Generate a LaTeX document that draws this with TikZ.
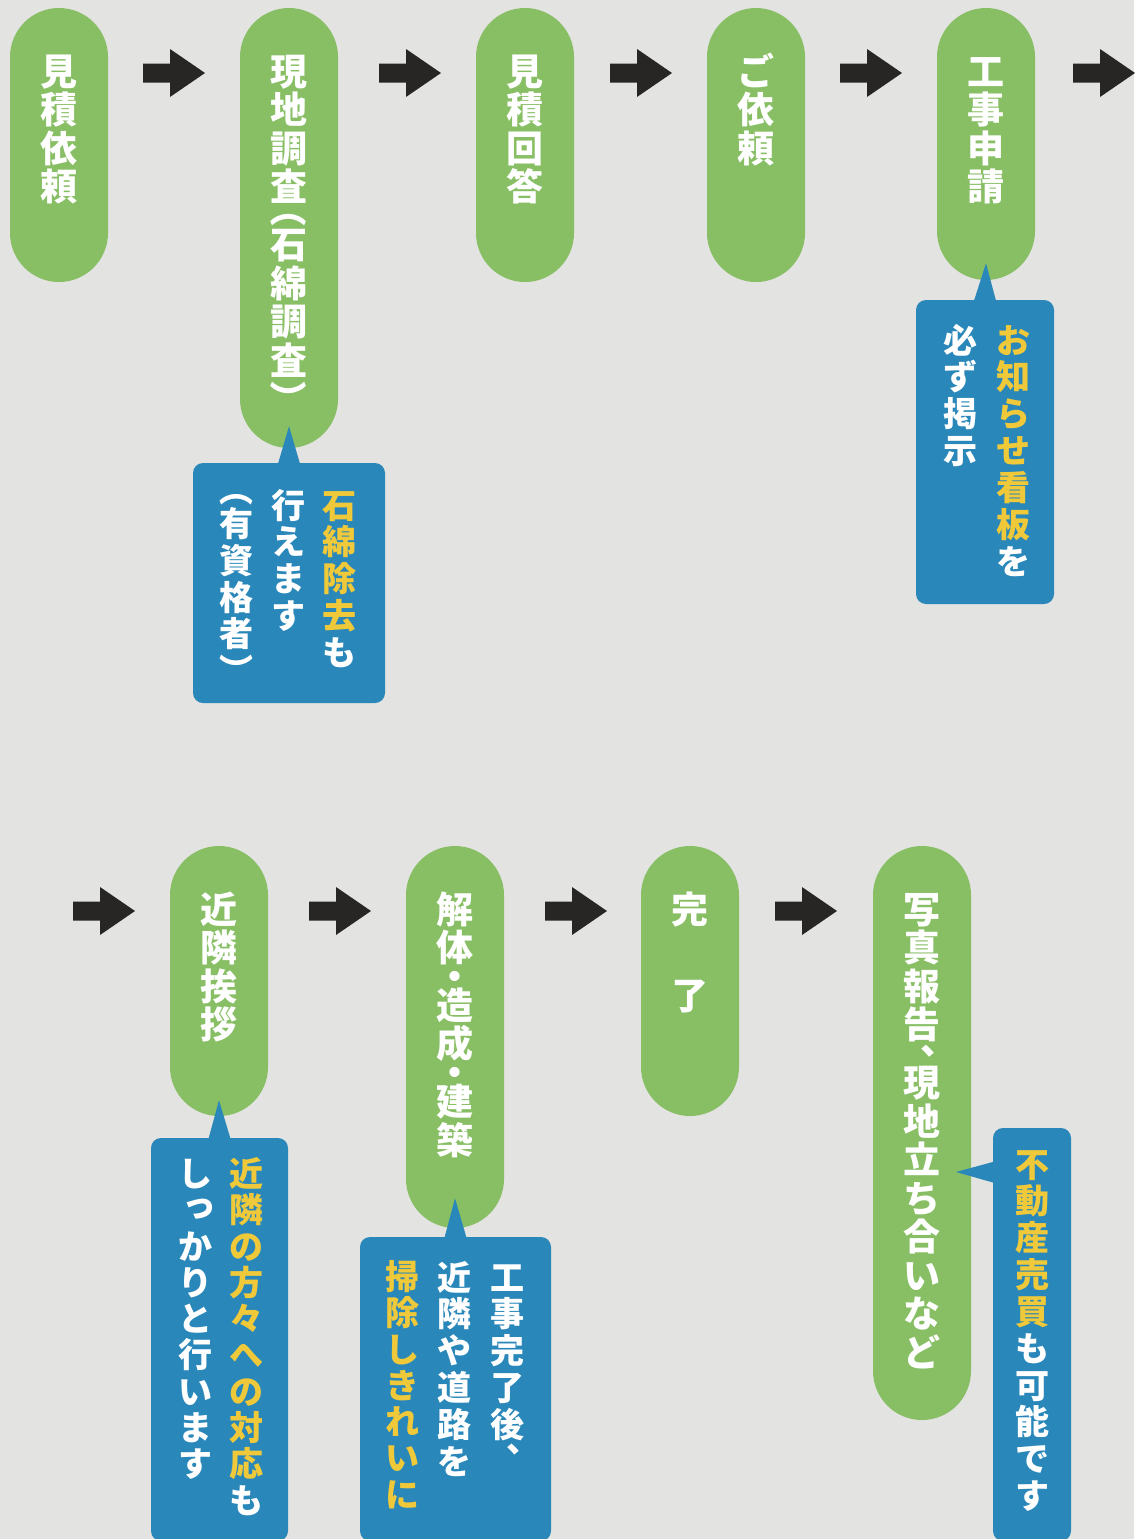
\documentclass[tikz,border=0pt]{standalone}
\usepackage{fontspec}
\usetikzlibrary{positioning,fit,calc}

\newfontfamily\jpfont{Noto Sans CJK JP}
\definecolor{bgc}{HTML}{E3E3E1}
\definecolor{grn}{HTML}{88BF65}
\definecolor{blu}{HTML}{2987B9}
\definecolor{yel}{HTML}{F0C93A}
\definecolor{arr}{HTML}{272625}

% vertical text: one cell per character
\newlength\vstep
\makeatletter
\def\vt@comma{、}\def\vt@dot{・}\def\vt@lp{（}\def\vt@rp{）}\def\vt@sp{　}\def\vt@tu{っ}
\newcommand\vcell[2]{\hbox to 1em{\vrule height\dimexpr#1\vstep-.12em\relax depth.12em width0pt\rlap{\smash{#2}}\hss}}
\newcommand\vchars[1]{\@tfor\vch:=#1\do{%
  \ifx\vch\vt@comma\vcell{.5}{\hspace*{.45em}\raisebox{.1em}{、}}%
  \else\ifx\vch\vt@dot\vcell{.5}{\raisebox{-.25em}{・}}%
  \else\ifx\vch\vt@lp\vcell{.5}{\raisebox{.8em}{\rotatebox{-90}{（}}}%
  \else\ifx\vch\vt@rp\vcell{.5}{\raisebox{.35em}{\rotatebox{-90}{）}}}%
  \else\ifx\vch\vt@sp\vcell{1.25}{}%
  \else\ifx\vch\vt@tu\vcell{1}{\hspace*{.1em}\raisebox{.15em}{っ}}%
  \else\vcell{1}{\vch}\fi\fi\fi\fi\fi\fi}}
\makeatother
\newcommand\vcol[2]{\vbox{\offinterlineskip\color{yel}\vchars{#1}\color{white}\vchars{#2}}}

\begin{document}
\begin{tikzpicture}[x=0.025cm, y=-0.025cm,
    pill/.style={fill=grn, rounded corners=1.225cm, inner sep=0},
    note/.style={fill=blu, rounded corners=0.25cm, inner sep=0},
    ptext/.style={inner sep=0, text=white, font=\jpfont\bfseries\fontsize{26.3}{26.3}\selectfont,
      execute at begin node={\setlength\vstep{27.4pt}}},
    ntext/.style={inner sep=0, text=white, anchor=north, font=\jpfont\bfseries\fontsize{24.2}{24.2}\selectfont,
      execute at begin node={\setlength\vstep{#1}}},
    ntext/.default=26.2pt]

  % Background
  \fill[bgc] (0,0) rectangle (1134,1539);
  \useasboundingbox (0,0) rectangle (1134,1539);

  % Steps
  \node[pill, fit={(10,8)(108,282)}] (s1) {};
  \node[pill, fit={(240,8)(338,448)}] (s2) {};
  \node[pill, fit={(476,8)(574,282)}] (s3) {};
  \node[pill, fit={(707,8)(805,282)}] (s4) {};
  \node[pill, fit={(937,8)(1035,280)}] (s5) {};
  \node[pill, fit={(170,846)(268,1116)}] (s6) {};
  \node[pill, fit={(406,846)(504,1228)}] (s7) {};
  \node[pill, fit={(641,846)(739,1116)}] (s8) {};
  \node[pill, fit={(873,846)(971,1420)}] (s9) {};

  % Notes
  \node[note, fit={(193,463)(385,703)}] (c1) {};
  \node[note, fit={(916,300)(1054,604)}] (c2) {};
  \node[note, fit={(151,1138)(288,1541)}] (c3) {};
  \node[note, fit={(360,1237)(551,1541)}] (c4) {};
  \node[note, fit={(993,1128)(1071,1541)}] (c5) {};

  % Pointer tips
  \coordinate (p1) at ($(s2.south)+(0,-22)$);
  \coordinate (p2) at ($(s5.south)+(0,-17)$);
  \coordinate (p3) at ($(s6.south)+(0,-16)$);
  \coordinate (p4) at ($(s7.south)+(0,-30)$);
  \coordinate (p5) at (956,1172);

  \fill[blu] ($(c1.north)+(-11,1)$) -- (p1) -- ($(c1.north)+(11,1)$) -- cycle;
  \fill[blu] ($(c2.north)+(-11,1)$) -- (p2) -- ($(c2.north)+(11,1)$) -- cycle;
  \fill[blu] ($(c3.north)+(-11,1)$) -- (p3) -- ($(c3.north)+(11,1)$) -- cycle;
  \fill[blu] ($(c4.north)+(-11,1)$) -- (p4) -- ($(c4.north)+(11,1)$) -- cycle;
  \fill[blu] ($(c5.north west)+(1,34)$) -- (p5) -- ($(c5.north west)+(1,55)$) -- cycle;

  % Arrows
  \foreach \x/\y in {143/73, 379/73, 610/73, 840/73, 1073/73, 73/911, 309/911, 545/911, 775/911}
    \fill[arr] (\x,\y-9.5) -- ++(27,0) -- ++(0,-14.5) -- ++(35,24) -- ++(-35,24)
      -- ++(0,-14.5) -- ++(-27,0) -- cycle;

  % Step texts
  \node[ptext, below=1.075cm of s1.north] (t1) {\vcol{}{見積依頼}};
  \node[ptext, below=1.075cm of s2.north] (t2) {\vcol{}{現地調査（石綿調査）}};
  \node[ptext, below=1.075cm of s3.north] (t3) {\vcol{}{見積回答}};
  \node[ptext, below=1.075cm of s4.north] (t4) {\vcol{}{ご依頼}};
  \node[ptext, below=1.075cm of s5.north] (t5) {\vcol{}{工事申請}};
  \node[ptext, below=1.075cm of s6.north] (t6) {\vcol{}{近隣挨拶}};
  \node[ptext, below=1.075cm of s7.north] (t7) {\vcol{}{解体・造成・建築}};
  \node[ptext, below=1.075cm of s8.north] (t8) {\vcol{}{完　了}};
  \node[ptext, below=1.075cm of s9.north] (t9) {\vcol{}{写真報告、現地立ち合いなど}};

  % Note texts
  \node[ntext] (n1a) at (340,485) {\vcol{石綿除去}{も}};
  \node[ntext] (n1b) at (289,485) {\vcol{}{行えます}};
  \node[ntext] (n1c) at (237,485) {\vcol{}{（有資格者）}};
  \node[ntext] (n2a) at (1014,320) {\vcol{お知らせ看板}{を}};
  \node[ntext] (n2b) at (961,320) {\vcol{}{必ず掲示}};
  \node[ntext=25.8pt] (n3a) at (247,1154) {\vcol{近隣の方々への対応}{も}};
  \node[ntext=25.8pt] (n3b) at (196,1154) {\vcol{}{しっかりと行います}};
  \node[ntext] (n4a) at (508,1257) {\vcol{}{工事完了後、}};
  \node[ntext] (n4b) at (455,1257) {\vcol{}{近隣や道路を}};
  \node[ntext=25.8pt] (n4c) at (403,1257) {\vcol{掃除しきれいに}{}};
  \node[ntext] (n5a) at (1033,1144) {\vcol{不動産売買}{も可能です}};
\end{tikzpicture}
\end{document}
